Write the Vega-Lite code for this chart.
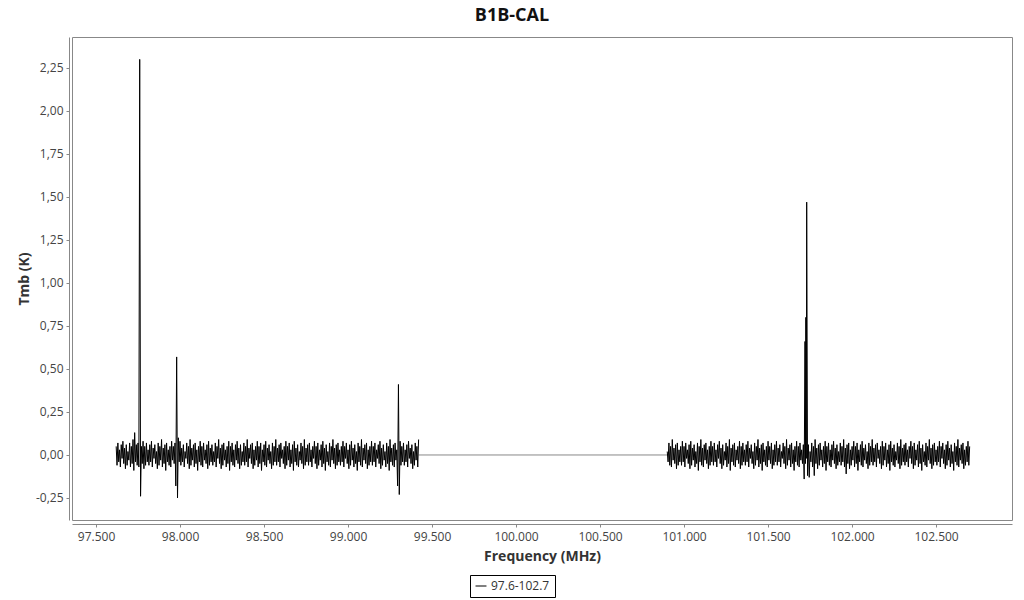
{
"$schema":"https://vega.github.io/schema/vega-lite/v6.json",
"width":940,"height":483,
"autosize":{"type":"none"},
"padding":{"left":72,"top":37,"right":12,"bottom":80},
"title":{"text":"B1B-CAL","font":"Open Sans","fontSize":18,"fontWeight":"bold","color":"#111","anchor":"middle","frame":"group","dx":-30,"offset":12},
"config":{
 "view":{"stroke":"#888","strokeWidth":1},
 "axis":{"domainColor":"#888","tickColor":"#888","tickSize":3,"grid":false,"labelFont":"Open Sans","labelFontSize":12,"labelColor":"#444","titleFont":"Open Sans","titleFontSize":14,"titleFontWeight":"bold","titleColor":"#333"},
 "legend":{"strokeColor":"black","padding":5,"labelFont":"Open Sans","labelFontSize":12,"labelColor":"#333","symbolType":"stroke","symbolStrokeWidth":1,"symbolSize":120}
},
"datasets":{
"gap":[{"f":99.42,"t":0},{"f":100.9,"t":0}],
"s1":[
{"f":97.62,"t":0.05},{"f":97.625,"t":-0.06},{"f":97.63,"t":0.07},{"f":97.635,"t":-0.04},{"f":97.64,"t":0.03},{"f":97.645,"t":-0.07},{"f":97.65,"t":0.06},{"f":97.655,"t":-0.02},{"f":97.66,"t":0.08},{"f":97.665,"t":-0.05},
{"f":97.67,"t":0.04},{"f":97.675,"t":-0.08},{"f":97.68,"t":0.06},{"f":97.685,"t":-0.06},{"f":97.69,"t":0.02},{"f":97.695,"t":-0.03},{"f":97.70,"t":0.07},{"f":97.705,"t":-0.07},{"f":97.71,"t":0.05},{"f":97.715,"t":-0.05},
{"f":97.72,"t":0.09},{"f":97.725,"t":-0.09},{"f":97.73,"t":0.13},{"f":97.735,"t":-0.04},{"f":97.74,"t":0.06},{"f":97.745,"t":-0.06},{"f":97.75,"t":0.07},{"f":97.755,"t":-0.07},{"f":97.76,"t":2.30},{"f":97.765,"t":-0.24},
{"f":97.77,"t":0.05},{"f":97.775,"t":-0.05},{"f":97.78,"t":0.08},{"f":97.785,"t":-0.08},{"f":97.79,"t":0.05},{"f":97.795,"t":-0.06},{"f":97.80,"t":0.07},{"f":97.805,"t":-0.04},{"f":97.81,"t":0.03},{"f":97.815,"t":-0.06},
{"f":97.82,"t":0.06},{"f":97.825,"t":-0.04},{"f":97.83,"t":0.08},{"f":97.835,"t":-0.07},{"f":97.84,"t":0.04},{"f":97.845,"t":-0.02},{"f":97.85,"t":0.06},{"f":97.855,"t":-0.05},{"f":97.86,"t":0.02},{"f":97.865,"t":-0.08},
{"f":97.87,"t":0.07},{"f":97.875,"t":-0.06},{"f":97.88,"t":0.05},{"f":97.885,"t":-0.03},{"f":97.89,"t":0.09},{"f":97.895,"t":-0.07},{"f":97.90,"t":0.04},{"f":97.905,"t":-0.05},{"f":97.91,"t":0.06},{"f":97.915,"t":-0.09},
{"f":97.92,"t":0.07},{"f":97.925,"t":-0.04},{"f":97.93,"t":0.03},{"f":97.935,"t":-0.06},{"f":97.94,"t":0.05},{"f":97.945,"t":-0.07},{"f":97.95,"t":0.08},{"f":97.955,"t":-0.03},{"f":97.96,"t":0.05},{"f":97.965,"t":-0.05},
{"f":97.97,"t":0.07},{"f":97.975,"t":-0.18},{"f":97.98,"t":0.57},{"f":97.985,"t":-0.25},{"f":97.99,"t":0.10},{"f":97.995,"t":-0.04},{"f":98.00,"t":0.08},{"f":98.005,"t":-0.06},{"f":98.01,"t":0.04},{"f":98.015,"t":-0.04},
{"f":98.02,"t":0.06},{"f":98.025,"t":-0.07},{"f":98.03,"t":0.02},{"f":98.035,"t":-0.02},{"f":98.04,"t":0.07},{"f":98.045,"t":-0.05},{"f":98.05,"t":0.05},{"f":98.055,"t":-0.08},{"f":98.06,"t":0.09},{"f":98.065,"t":-0.06},
{"f":98.07,"t":0.04},{"f":98.075,"t":-0.03},{"f":98.08,"t":0.06},{"f":98.085,"t":-0.07},{"f":98.09,"t":0.07},{"f":98.095,"t":-0.05},{"f":98.10,"t":0.03},{"f":98.105,"t":-0.09},{"f":98.11,"t":0.05},{"f":98.115,"t":-0.04},
{"f":98.12,"t":0.08},{"f":98.125,"t":-0.06},{"f":98.13,"t":0.05},{"f":98.135,"t":-0.07},{"f":98.14,"t":0.07},{"f":98.145,"t":-0.03},{"f":98.15,"t":0.03},{"f":98.155,"t":-0.05},{"f":98.16,"t":0.06},{"f":98.165,"t":-0.08},
{"f":98.17,"t":0.08},{"f":98.175,"t":-0.06},{"f":98.18,"t":0.04},{"f":98.185,"t":-0.04},{"f":98.19,"t":0.06},{"f":98.195,"t":-0.06},{"f":98.20,"t":0.02},{"f":98.205,"t":-0.04},{"f":98.21,"t":0.07},{"f":98.215,"t":-0.07},
{"f":98.22,"t":0.05},{"f":98.225,"t":-0.02},{"f":98.23,"t":0.09},{"f":98.235,"t":-0.05},{"f":98.24,"t":0.04},{"f":98.245,"t":-0.08},{"f":98.25,"t":0.06},{"f":98.255,"t":-0.06},{"f":98.26,"t":0.07},{"f":98.265,"t":-0.03},
{"f":98.27,"t":0.03},{"f":98.275,"t":-0.07},{"f":98.28,"t":0.05},{"f":98.285,"t":-0.05},{"f":98.29,"t":0.08},{"f":98.295,"t":-0.09},{"f":98.30,"t":0.05},{"f":98.305,"t":-0.04},{"f":98.31,"t":0.07},{"f":98.315,"t":-0.06},
{"f":98.32,"t":0.03},{"f":98.325,"t":-0.07},{"f":98.33,"t":0.06},{"f":98.335,"t":-0.03},{"f":98.34,"t":0.08},{"f":98.345,"t":-0.05},{"f":98.35,"t":0.04},{"f":98.355,"t":-0.08},{"f":98.36,"t":0.06},{"f":98.365,"t":-0.06},
{"f":98.37,"t":0.02},{"f":98.375,"t":-0.04},{"f":98.38,"t":0.07},{"f":98.385,"t":-0.06},{"f":98.39,"t":0.05},{"f":98.395,"t":-0.04},{"f":98.40,"t":0.09},{"f":98.405,"t":-0.07},{"f":98.41,"t":0.04},{"f":98.415,"t":-0.02},
{"f":98.42,"t":0.06},{"f":98.425,"t":-0.05},{"f":98.43,"t":0.07},{"f":98.435,"t":-0.08},{"f":98.44,"t":0.03},{"f":98.445,"t":-0.06},{"f":98.45,"t":0.05},{"f":98.455,"t":-0.03},{"f":98.46,"t":0.08},{"f":98.465,"t":-0.07},
{"f":98.47,"t":0.05},{"f":98.475,"t":-0.05},{"f":98.48,"t":0.07},{"f":98.485,"t":-0.09},{"f":98.49,"t":0.03},{"f":98.495,"t":-0.04},{"f":98.50,"t":0.06},{"f":98.505,"t":-0.06},{"f":98.51,"t":0.08},{"f":98.515,"t":-0.07},
{"f":98.52,"t":0.04},{"f":98.525,"t":-0.03},{"f":98.53,"t":0.06},{"f":98.535,"t":-0.05},{"f":98.54,"t":0.02},{"f":98.545,"t":-0.08},{"f":98.55,"t":0.07},{"f":98.555,"t":-0.06},{"f":98.56,"t":0.05},{"f":98.565,"t":-0.04},
{"f":98.57,"t":0.09},{"f":98.575,"t":-0.06},{"f":98.58,"t":0.04},{"f":98.585,"t":-0.04},{"f":98.59,"t":0.06},{"f":98.595,"t":-0.07},{"f":98.60,"t":0.07},{"f":98.605,"t":-0.02},{"f":98.61,"t":0.03},{"f":98.615,"t":-0.05},
{"f":98.62,"t":0.05},{"f":98.625,"t":-0.08},{"f":98.63,"t":0.08},{"f":98.635,"t":-0.06},{"f":98.64,"t":0.05},{"f":98.645,"t":-0.03},{"f":98.65,"t":0.07},{"f":98.655,"t":-0.07},{"f":98.66,"t":0.03},{"f":98.665,"t":-0.05},
{"f":98.67,"t":0.06},{"f":98.675,"t":-0.09},{"f":98.68,"t":0.08},{"f":98.685,"t":-0.04},{"f":98.69,"t":0.04},{"f":98.695,"t":-0.06},{"f":98.70,"t":0.06},{"f":98.705,"t":-0.07},{"f":98.71,"t":0.02},{"f":98.715,"t":-0.03},
{"f":98.72,"t":0.07},{"f":98.725,"t":-0.05},{"f":98.73,"t":0.05},{"f":98.735,"t":-0.08},{"f":98.74,"t":0.09},{"f":98.745,"t":-0.06},{"f":98.75,"t":0.04},{"f":98.755,"t":-0.04},{"f":98.76,"t":0.06},{"f":98.765,"t":-0.06},
{"f":98.77,"t":0.07},{"f":98.775,"t":-0.04},{"f":98.78,"t":0.03},{"f":98.785,"t":-0.07},{"f":98.79,"t":0.05},{"f":98.795,"t":-0.02},{"f":98.80,"t":0.08},{"f":98.805,"t":-0.05},{"f":98.81,"t":0.05},{"f":98.815,"t":-0.08},
{"f":98.82,"t":0.07},{"f":98.825,"t":-0.06},{"f":98.83,"t":0.03},{"f":98.835,"t":-0.03},{"f":98.84,"t":0.06},{"f":98.845,"t":-0.07},{"f":98.85,"t":0.08},{"f":98.855,"t":-0.05},{"f":98.86,"t":0.04},{"f":98.865,"t":-0.09},
{"f":98.87,"t":0.06},{"f":98.875,"t":-0.04},{"f":98.88,"t":0.02},{"f":98.885,"t":-0.06},{"f":98.89,"t":0.07},{"f":98.895,"t":-0.07},{"f":98.90,"t":0.05},{"f":98.905,"t":-0.03},{"f":98.91,"t":0.09},{"f":98.915,"t":-0.05},
{"f":98.92,"t":0.04},{"f":98.925,"t":-0.08},{"f":98.93,"t":0.06},{"f":98.935,"t":-0.06},{"f":98.94,"t":0.07},{"f":98.945,"t":-0.04},{"f":98.95,"t":0.03},{"f":98.955,"t":-0.06},{"f":98.96,"t":0.05},{"f":98.965,"t":-0.04},
{"f":98.97,"t":0.08},{"f":98.975,"t":-0.07},{"f":98.98,"t":0.05},{"f":98.985,"t":-0.02},{"f":98.99,"t":0.07},{"f":98.995,"t":-0.05},{"f":99.00,"t":0.03},{"f":99.005,"t":-0.08},{"f":99.01,"t":0.06},{"f":99.015,"t":-0.06},
{"f":99.02,"t":0.08},{"f":99.025,"t":-0.03},{"f":99.03,"t":0.04},{"f":99.035,"t":-0.07},{"f":99.04,"t":0.06},{"f":99.045,"t":-0.05},{"f":99.05,"t":0.02},{"f":99.055,"t":-0.09},{"f":99.06,"t":0.07},{"f":99.065,"t":-0.04},
{"f":99.07,"t":0.05},{"f":99.075,"t":-0.06},{"f":99.08,"t":0.09},{"f":99.085,"t":-0.07},{"f":99.09,"t":0.04},{"f":99.095,"t":-0.03},{"f":99.10,"t":0.06},{"f":99.105,"t":-0.05},{"f":99.11,"t":0.07},{"f":99.115,"t":-0.08},
{"f":99.12,"t":0.03},{"f":99.125,"t":-0.06},{"f":99.13,"t":0.05},{"f":99.135,"t":-0.04},{"f":99.14,"t":0.08},{"f":99.145,"t":-0.06},{"f":99.15,"t":0.05},{"f":99.155,"t":-0.04},{"f":99.16,"t":0.07},{"f":99.165,"t":-0.07},
{"f":99.17,"t":0.03},{"f":99.175,"t":-0.02},{"f":99.18,"t":0.06},{"f":99.185,"t":-0.05},{"f":99.19,"t":0.08},{"f":99.195,"t":-0.08},{"f":99.20,"t":0.04},{"f":99.205,"t":-0.06},{"f":99.21,"t":0.06},{"f":99.215,"t":-0.03},
{"f":99.22,"t":0.02},{"f":99.225,"t":-0.07},{"f":99.23,"t":0.07},{"f":99.235,"t":-0.05},{"f":99.24,"t":0.05},{"f":99.245,"t":-0.09},{"f":99.25,"t":0.09},{"f":99.255,"t":-0.04},{"f":99.26,"t":0.04},{"f":99.265,"t":-0.06},
{"f":99.27,"t":0.06},{"f":99.275,"t":-0.07},{"f":99.28,"t":0.07},{"f":99.285,"t":-0.03},{"f":99.29,"t":0.03},{"f":99.295,"t":-0.18},{"f":99.30,"t":0.41},{"f":99.305,"t":-0.23},{"f":99.31,"t":0.08},{"f":99.315,"t":-0.06},
{"f":99.32,"t":0.05},{"f":99.325,"t":-0.04},{"f":99.33,"t":0.07},{"f":99.335,"t":-0.06},{"f":99.34,"t":0.03},{"f":99.345,"t":-0.04},{"f":99.35,"t":0.06},{"f":99.355,"t":-0.07},{"f":99.36,"t":0.08},{"f":99.365,"t":-0.02},
{"f":99.37,"t":0.04},{"f":99.375,"t":-0.05},{"f":99.38,"t":0.06},{"f":99.385,"t":-0.08},{"f":99.39,"t":0.02},{"f":99.395,"t":-0.06},{"f":99.40,"t":0.07},{"f":99.405,"t":-0.03},{"f":99.41,"t":0.05},{"f":99.415,"t":-0.07},{"f":99.42,"t":0.09}
],
"s2":[
{"f":100.90,"t":0.02},{"f":100.905,"t":-0.04},{"f":100.91,"t":0.07},{"f":100.915,"t":-0.06},{"f":100.92,"t":0.05},{"f":100.925,"t":-0.07},{"f":100.93,"t":0.09},{"f":100.935,"t":-0.03},{"f":100.94,"t":0.04},{"f":100.945,"t":-0.05},
{"f":100.95,"t":0.06},{"f":100.955,"t":-0.08},{"f":100.96,"t":0.07},{"f":100.965,"t":-0.06},{"f":100.97,"t":0.03},{"f":100.975,"t":-0.04},{"f":100.98,"t":0.05},{"f":100.985,"t":-0.06},{"f":100.99,"t":0.08},{"f":100.995,"t":-0.04},
{"f":101.00,"t":0.05},{"f":101.005,"t":-0.07},{"f":101.01,"t":0.07},{"f":101.015,"t":-0.02},{"f":101.02,"t":0.03},{"f":101.025,"t":-0.05},{"f":101.03,"t":0.06},{"f":101.035,"t":-0.08},{"f":101.04,"t":0.08},{"f":101.045,"t":-0.06},
{"f":101.05,"t":0.04},{"f":101.055,"t":-0.03},{"f":101.06,"t":0.06},{"f":101.065,"t":-0.07},{"f":101.07,"t":0.02},{"f":101.075,"t":-0.05},{"f":101.08,"t":0.07},{"f":101.085,"t":-0.09},{"f":101.09,"t":0.05},{"f":101.095,"t":-0.04},
{"f":101.10,"t":0.09},{"f":101.105,"t":-0.06},{"f":101.11,"t":0.04},{"f":101.115,"t":-0.07},{"f":101.12,"t":0.06},{"f":101.125,"t":-0.03},{"f":101.13,"t":0.07},{"f":101.135,"t":-0.05},{"f":101.14,"t":0.03},{"f":101.145,"t":-0.08},
{"f":101.15,"t":0.05},{"f":101.155,"t":-0.06},{"f":101.16,"t":0.08},{"f":101.165,"t":-0.04},{"f":101.17,"t":0.05},{"f":101.175,"t":-0.06},{"f":101.18,"t":0.07},{"f":101.185,"t":-0.04},{"f":101.19,"t":0.03},{"f":101.195,"t":-0.07},
{"f":101.20,"t":0.06},{"f":101.205,"t":-0.02},{"f":101.21,"t":0.08},{"f":101.215,"t":-0.05},{"f":101.22,"t":0.04},{"f":101.225,"t":-0.08},{"f":101.23,"t":0.06},{"f":101.235,"t":-0.06},{"f":101.24,"t":0.02},{"f":101.245,"t":-0.03},
{"f":101.25,"t":0.07},{"f":101.255,"t":-0.07},{"f":101.26,"t":0.05},{"f":101.265,"t":-0.05},{"f":101.27,"t":0.09},{"f":101.275,"t":-0.09},{"f":101.28,"t":0.04},{"f":101.285,"t":-0.04},{"f":101.29,"t":0.06},{"f":101.295,"t":-0.06},
{"f":101.30,"t":0.07},{"f":101.305,"t":-0.07},{"f":101.31,"t":0.03},{"f":101.315,"t":-0.03},{"f":101.32,"t":0.05},{"f":101.325,"t":-0.05},{"f":101.33,"t":0.08},{"f":101.335,"t":-0.08},{"f":101.34,"t":0.05},{"f":101.345,"t":-0.06},
{"f":101.35,"t":0.07},{"f":101.355,"t":-0.04},{"f":101.36,"t":0.03},{"f":101.365,"t":-0.06},{"f":101.37,"t":0.06},{"f":101.375,"t":-0.04},{"f":101.38,"t":0.08},{"f":101.385,"t":-0.07},{"f":101.39,"t":0.04},{"f":101.395,"t":-0.02},
{"f":101.40,"t":0.06},{"f":101.405,"t":-0.05},{"f":101.41,"t":0.02},{"f":101.415,"t":-0.08},{"f":101.42,"t":0.07},{"f":101.425,"t":-0.06},{"f":101.43,"t":0.05},{"f":101.435,"t":-0.03},{"f":101.44,"t":0.09},{"f":101.445,"t":-0.07},
{"f":101.45,"t":0.04},{"f":101.455,"t":-0.05},{"f":101.46,"t":0.06},{"f":101.465,"t":-0.09},{"f":101.47,"t":0.07},{"f":101.475,"t":-0.04},{"f":101.48,"t":0.03},{"f":101.485,"t":-0.06},{"f":101.49,"t":0.05},{"f":101.495,"t":-0.07},
{"f":101.50,"t":0.08},{"f":101.505,"t":-0.03},{"f":101.51,"t":0.05},{"f":101.515,"t":-0.05},{"f":101.52,"t":0.07},{"f":101.525,"t":-0.08},{"f":101.53,"t":0.03},{"f":101.535,"t":-0.06},{"f":101.54,"t":0.06},{"f":101.545,"t":-0.04},
{"f":101.55,"t":0.08},{"f":101.555,"t":-0.06},{"f":101.56,"t":0.04},{"f":101.565,"t":-0.04},{"f":101.57,"t":0.06},{"f":101.575,"t":-0.07},{"f":101.58,"t":0.02},{"f":101.585,"t":-0.02},{"f":101.59,"t":0.07},{"f":101.595,"t":-0.05},
{"f":101.60,"t":0.05},{"f":101.605,"t":-0.08},{"f":101.61,"t":0.09},{"f":101.615,"t":-0.06},{"f":101.62,"t":0.04},{"f":101.625,"t":-0.03},{"f":101.63,"t":0.06},{"f":101.635,"t":-0.07},{"f":101.64,"t":0.07},{"f":101.645,"t":-0.05},
{"f":101.65,"t":0.03},{"f":101.655,"t":-0.09},{"f":101.66,"t":0.05},{"f":101.665,"t":-0.04},{"f":101.67,"t":0.08},{"f":101.675,"t":-0.06},{"f":101.68,"t":0.05},{"f":101.685,"t":-0.07},{"f":101.69,"t":0.07},{"f":101.695,"t":-0.03},
{"f":101.70,"t":0.03},{"f":101.705,"t":-0.05},{"f":101.71,"t":0.06},{"f":101.715,"t":-0.14},{"f":101.72,"t":0.66},{"f":101.7225,"t":-0.05},{"f":101.725,"t":0.80},{"f":101.7275,"t":-0.02},{"f":101.73,"t":1.47},{"f":101.735,"t":-0.12},
{"f":101.74,"t":0.06},{"f":101.745,"t":-0.13},{"f":101.75,"t":0.02},{"f":101.755,"t":-0.04},{"f":101.76,"t":0.07},{"f":101.765,"t":-0.07},{"f":101.77,"t":0.05},{"f":101.775,"t":-0.12},{"f":101.78,"t":0.09},{"f":101.785,"t":-0.05},
{"f":101.79,"t":0.04},{"f":101.795,"t":-0.08},{"f":101.80,"t":0.06},{"f":101.805,"t":-0.06},{"f":101.81,"t":0.07},{"f":101.815,"t":-0.03},{"f":101.82,"t":0.03},{"f":101.825,"t":-0.07},{"f":101.83,"t":0.05},{"f":101.835,"t":-0.05},
{"f":101.84,"t":0.08},{"f":101.845,"t":-0.09},{"f":101.85,"t":0.05},{"f":101.855,"t":-0.04},{"f":101.86,"t":0.07},{"f":101.865,"t":-0.06},{"f":101.87,"t":0.03},{"f":101.875,"t":-0.07},{"f":101.88,"t":0.06},{"f":101.885,"t":-0.03},
{"f":101.89,"t":0.08},{"f":101.895,"t":-0.05},{"f":101.90,"t":0.04},{"f":101.905,"t":-0.08},{"f":101.91,"t":0.06},{"f":101.915,"t":-0.06},{"f":101.92,"t":0.02},{"f":101.925,"t":-0.04},{"f":101.93,"t":0.07},{"f":101.935,"t":-0.06},
{"f":101.94,"t":0.05},{"f":101.945,"t":-0.04},{"f":101.95,"t":0.09},{"f":101.955,"t":-0.07},{"f":101.96,"t":0.04},{"f":101.965,"t":-0.11},{"f":101.97,"t":0.06},{"f":101.975,"t":-0.05},{"f":101.98,"t":0.07},{"f":101.985,"t":-0.08},
{"f":101.99,"t":0.03},{"f":101.995,"t":-0.06},{"f":102.00,"t":0.05},{"f":102.005,"t":-0.03},{"f":102.01,"t":0.08},{"f":102.015,"t":-0.07},{"f":102.02,"t":0.05},{"f":102.025,"t":-0.05},{"f":102.03,"t":0.07},{"f":102.035,"t":-0.09},
{"f":102.04,"t":0.03},{"f":102.045,"t":-0.04},{"f":102.05,"t":0.06},{"f":102.055,"t":-0.06},{"f":102.06,"t":0.08},{"f":102.065,"t":-0.07},{"f":102.07,"t":0.04},{"f":102.075,"t":-0.03},{"f":102.08,"t":0.06},{"f":102.085,"t":-0.05},
{"f":102.09,"t":0.02},{"f":102.095,"t":-0.08},{"f":102.10,"t":0.07},{"f":102.105,"t":-0.06},{"f":102.11,"t":0.05},{"f":102.115,"t":-0.04},{"f":102.12,"t":0.09},{"f":102.125,"t":-0.06},{"f":102.13,"t":0.04},{"f":102.135,"t":-0.04},
{"f":102.14,"t":0.06},{"f":102.145,"t":-0.07},{"f":102.15,"t":0.07},{"f":102.155,"t":-0.02},{"f":102.16,"t":0.03},{"f":102.165,"t":-0.05},{"f":102.17,"t":0.05},{"f":102.175,"t":-0.08},{"f":102.18,"t":0.08},{"f":102.185,"t":-0.06},
{"f":102.19,"t":0.05},{"f":102.195,"t":-0.03},{"f":102.20,"t":0.07},{"f":102.205,"t":-0.07},{"f":102.21,"t":0.03},{"f":102.215,"t":-0.05},{"f":102.22,"t":0.06},{"f":102.225,"t":-0.09},{"f":102.23,"t":0.08},{"f":102.235,"t":-0.04},
{"f":102.24,"t":0.04},{"f":102.245,"t":-0.06},{"f":102.25,"t":0.06},{"f":102.255,"t":-0.07},{"f":102.26,"t":0.02},{"f":102.265,"t":-0.03},{"f":102.27,"t":0.07},{"f":102.275,"t":-0.05},{"f":102.28,"t":0.05},{"f":102.285,"t":-0.08},
{"f":102.29,"t":0.09},{"f":102.295,"t":-0.06},{"f":102.30,"t":0.04},{"f":102.305,"t":-0.04},{"f":102.31,"t":0.06},{"f":102.315,"t":-0.06},{"f":102.32,"t":0.07},{"f":102.325,"t":-0.04},{"f":102.33,"t":0.03},{"f":102.335,"t":-0.07},
{"f":102.34,"t":0.05},{"f":102.345,"t":-0.02},{"f":102.35,"t":0.08},{"f":102.355,"t":-0.05},{"f":102.36,"t":0.05},{"f":102.365,"t":-0.08},{"f":102.37,"t":0.07},{"f":102.375,"t":-0.06},{"f":102.38,"t":0.03},{"f":102.385,"t":-0.03},
{"f":102.39,"t":0.06},{"f":102.395,"t":-0.07},{"f":102.40,"t":0.08},{"f":102.405,"t":-0.05},{"f":102.41,"t":0.04},{"f":102.415,"t":-0.09},{"f":102.42,"t":0.06},{"f":102.425,"t":-0.04},{"f":102.43,"t":0.02},{"f":102.435,"t":-0.06},
{"f":102.44,"t":0.07},{"f":102.445,"t":-0.07},{"f":102.45,"t":0.05},{"f":102.455,"t":-0.03},{"f":102.46,"t":0.09},{"f":102.465,"t":-0.05},{"f":102.47,"t":0.04},{"f":102.475,"t":-0.08},{"f":102.48,"t":0.06},{"f":102.485,"t":-0.06},
{"f":102.49,"t":0.07},{"f":102.495,"t":-0.04},{"f":102.50,"t":0.03},{"f":102.505,"t":-0.06},{"f":102.51,"t":0.05},{"f":102.515,"t":-0.04},{"f":102.52,"t":0.08},{"f":102.525,"t":-0.07},{"f":102.53,"t":0.05},{"f":102.535,"t":-0.02},
{"f":102.54,"t":0.07},{"f":102.545,"t":-0.05},{"f":102.55,"t":0.03},{"f":102.555,"t":-0.08},{"f":102.56,"t":0.06},{"f":102.565,"t":-0.06},{"f":102.57,"t":0.08},{"f":102.575,"t":-0.03},{"f":102.58,"t":0.04},{"f":102.585,"t":-0.07},
{"f":102.59,"t":0.06},{"f":102.595,"t":-0.05},{"f":102.60,"t":0.02},{"f":102.605,"t":-0.09},{"f":102.61,"t":0.07},{"f":102.615,"t":-0.04},{"f":102.62,"t":0.05},{"f":102.625,"t":-0.06},{"f":102.63,"t":0.09},{"f":102.635,"t":-0.07},
{"f":102.64,"t":0.04},{"f":102.645,"t":-0.03},{"f":102.65,"t":0.06},{"f":102.655,"t":-0.05},{"f":102.66,"t":0.07},{"f":102.665,"t":-0.08},{"f":102.67,"t":0.03},{"f":102.675,"t":-0.06},{"f":102.68,"t":0.05},{"f":102.685,"t":-0.04},
{"f":102.69,"t":0.08},{"f":102.695,"t":-0.06},{"f":102.70,"t":0.05}
]
},
"encoding":{
 "x":{"field":"f","type":"quantitative","scale":{"domain":[97.357,102.952],"nice":false,"zero":false},
  "axis":{"title":"Frequency (MHz)","values":[97.5,98,98.5,99,99.5,100,100.5,101,101.5,102,102.5],"format":".3f","offset":4,"labelPadding":4,"titlePadding":7}},
 "y":{"field":"t","type":"quantitative","scale":{"domain":[-0.378,2.43],"nice":false,"zero":false},
  "axis":{"title":"Tmb (K)","values":[-0.25,0,0.25,0.5,0.75,1,1.25,1.5,1.75,2,2.25],"labelExpr":"replace(replace(format(datum.value,'.2f'),'.',','),'\u2212','-')","offset":3,"labelPadding":3,"titlePadding":4}}
},
"layer":[
 {"data":{"name":"gap"},"mark":{"type":"line","color":"#888","strokeWidth":1}},
 {"data":{"name":"s1"},"mark":{"type":"line","strokeWidth":1},
  "encoding":{"color":{"datum":"97.6-102.7","scale":{"range":["black"]},"legend":{"title":null,"orient":"none","legendX":398,"legendY":538}}}},
 {"data":{"name":"s2"},"mark":{"type":"line","strokeWidth":1},
  "encoding":{"color":{"datum":"97.6-102.7","scale":{"range":["black"]},"legend":{"title":null,"orient":"none","legendX":398,"legendY":538}}}}
]
}
